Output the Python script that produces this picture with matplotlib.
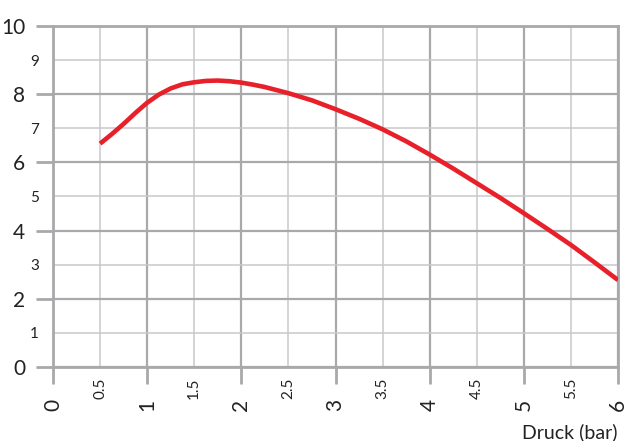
import matplotlib
matplotlib.use("Agg")
import matplotlib.pyplot as plt

# Data
druck = [0.5, 0.625, 0.75, 0.875, 1.0, 1.125, 1.25, 1.375, 1.5, 1.625, 1.75, 1.875,
         2.0, 2.125, 2.25, 2.375, 2.5, 2.75, 3.0, 3.25, 3.5, 3.75, 4.0, 4.25, 4.5,
         4.75, 5.0, 5.25, 5.5, 5.75, 6.0]
wert = [6.55, 6.83, 7.13, 7.45, 7.75, 7.99, 8.17, 8.29, 8.35, 8.39, 8.40, 8.38,
        8.34, 8.28, 8.21, 8.12, 8.03, 7.82, 7.56, 7.28, 6.97, 6.62, 6.23, 5.82, 5.39,
        4.96, 4.51, 4.05, 3.58, 3.07, 2.55]

x_major = [0, 1, 2, 3, 4, 5, 6]
x_minor = [0.5, 1.5, 2.5, 3.5, 4.5, 5.5]
y_major = [0, 2, 4, 6, 8, 10]
y_minor = [1, 3, 5, 7, 9]
x_label = "Druck (bar)"

plt.rcParams['font.family'] = ['Lato', 'DejaVu Sans']

major_c = "#a9a9ab"
minor_c = "#c9c9cb"
red = "#e8202a"
text_c = "#222222"

fig = plt.figure(figsize=(6.28, 4.41), dpi=100)
ax = fig.add_axes([53/628, 1 - 367/441, (618 - 53)/628, (367 - 26)/441])

ax.set_xlim(0, 6)
ax.set_ylim(0, 10)

ax.set_xticks(x_major)
ax.set_xticks(x_minor, minor=True)
ax.set_yticks(y_major)
ax.set_yticks(y_minor, minor=True)

ax.set_xticklabels([str(v) for v in x_major], rotation=90, fontsize=15)
ax.set_xticklabels([str(v) for v in x_minor], minor=True, rotation=90, fontsize=11)
ax.set_yticklabels([str(v) for v in y_major], fontsize=15)
ax.set_yticklabels([str(v) for v in y_minor], minor=True, fontsize=11)

ax.tick_params(axis='both', which='major', length=12, width=2, color=major_c,
               labelcolor=text_c)
ax.tick_params(axis='both', which='minor', length=0, labelcolor=text_c)
ax.tick_params(axis='x', which='major', pad=11)
ax.tick_params(axis='x', which='minor', pad=8)
ax.tick_params(axis='y', which='major', pad=8)
ax.tick_params(axis='y', which='minor', pad=10)

ax.grid(which='major', color=major_c, linewidth=1.6)
ax.grid(which='minor', color=minor_c, linewidth=1.1)
ax.set_axisbelow(True)

for s in ax.spines.values():
    s.set_color(major_c)
    s.set_linewidth(2)

ax.plot(druck, wert, color=red, linewidth=3.3, solid_capstyle='butt',
        solid_joinstyle='round', zorder=5)

fig.text(618/628, 1 - 432/441, x_label, ha='right', va='center', fontsize=14,
         color=text_c)

fig.savefig("out.png", dpi=100)
